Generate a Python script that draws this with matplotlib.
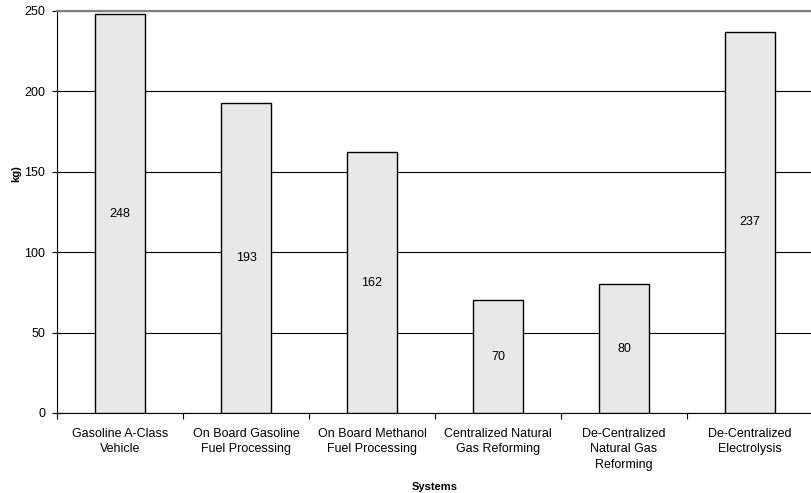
import numpy as np
import matplotlib.pyplot as plt
from matplotlib.ticker import FixedLocator, NullFormatter

systems = ['Gasoline A-Class\nVehicle', 'On Board Gasoline\nFuel Processing',
           'On Board Methanol\nFuel Processing', 'Centralized Natural\nGas Reforming',
           'De-Centralized\nNatural Gas\nReforming', 'De-Centralized\nElectrolysis']
values = [248, 193, 162, 70, 80, 237]
y_ticks = [0, 50, 100, 150, 200, 250]


def main():
    plt.rcParams['font.family'] = ['Liberation Sans', 'DejaVu Sans']
    fig = plt.figure(figsize=(8.11, 4.93), dpi=100)
    ax = fig.add_axes([0.0703, 0.1623, 0.9322, 0.8154])

    x = np.arange(len(values))
    ax.bar(x, values, width=0.4, color='#e8e8e8', edgecolor='black', linewidth=1.0, zorder=3)
    for xi, v in zip(x, values):
        ax.text(xi, v / 2, str(v), ha='center', va='center', fontsize=9, zorder=4)

    ax.set_xlim(-0.5, len(values) - 0.5)
    ax.set_ylim(0, 250)
    ax.set_yticks(y_ticks)
    ax.set_xticks(x)
    ax.set_xticklabels(systems, fontsize=9, linespacing=1.35)
    ax.xaxis.set_minor_locator(FixedLocator(np.arange(-0.5, len(values), 1.0)))
    ax.xaxis.set_minor_formatter(NullFormatter())
    ax.tick_params(axis='x', which='major', length=0, pad=11)
    ax.tick_params(axis='x', which='minor', length=4, width=0.8)
    ax.tick_params(axis='y', labelsize=9, length=7, width=0.8, pad=5, direction='inout')

    ax.grid(axis='y', color='black', linewidth=0.8, zorder=0)
    ax.set_axisbelow(True)
    ax.spines['right'].set_visible(False)
    ax.spines['top'].set_color('#808080')
    ax.spines['top'].set_linewidth(1.6)
    ax.spines['left'].set_linewidth(0.8)
    ax.spines['bottom'].set_linewidth(0.8)

    ax.set_xlabel('Systems', fontsize=8, fontweight='bold')
    ax.xaxis.set_label_coords(0.5, -0.171)
    ax.set_ylabel('kg)', fontsize=8, fontweight='bold')
    ax.yaxis.set_label_coords(-0.047, 0.596)

    fig.savefig('out.png', dpi=100)


if __name__ == '__main__':
    main()
